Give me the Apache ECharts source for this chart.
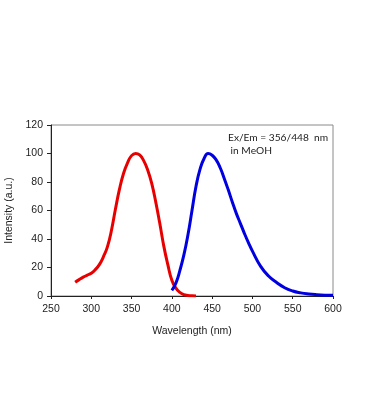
<!DOCTYPE html>
<html><head><meta charset="utf-8">
<script src="https://cdn.jsdelivr.net/npm/echarts@6/dist/echarts.min.js"></script>
<style>html,body{margin:0;padding:0;background:#fff}#c{width:369px;height:418px}</style>
</head><body><div id="c"></div>
<script>
var exWavelengths = [280,285,290,295,300,305,310,315,320,325,330,335,340,345,350,355,360,365,370,375,380,385,390,395,400,405,410,415,420,425,430];
var exIntensity   = [9.6,11.5,13.2,14.6,16,18.5,22,27.5,34.5,46,61,75,86,93.5,98.5,100,99,95,88.5,79,66,51,35,22,11,5.5,2.5,1,0.4,0.1,0];
var emWavelengths = [400,405,410,415,420,425,430,435,440,445,450,455,460,465,470,475,480,485,490,495,500,510,520,530,540,550,560,570,580,590,600];
var emIntensity   = [4,9,18,29,43,60,77,89,96.5,100,98.8,95.5,90,82.5,74.5,66,58,51,44,37.5,31.5,21,14,9.5,5.8,3.5,2.2,1.4,0.9,0.6,0.5];
var xTicks = [250,300,350,400,450,500,550,600];
var yTicks = [0,20,40,60,80,100,120];
var annotation = ["Ex/Em = 356/448  nm", " in MeOH"];

function pairs(xs, ys){ return xs.map(function(x,i){ return [x, ys[i]]; }); }

var chart = echarts.init(document.getElementById('c'), null, {renderer:'canvas'});
var labelFont = {color:'#222', fontFamily:'Liberation Sans, Arial, sans-serif', fontSize:10.5};
chart.setOption({
  animation:false,
  grid:{left:51, top:125, right:36, bottom:122, containLabel:false, outerBoundsMode:'none',
        show:true, borderColor:'#8a8a8a', borderWidth:1, backgroundColor:'transparent'},
  xAxis:{type:'value', min:xTicks[0], max:xTicks[xTicks.length-1], interval:50,
    name:'Wavelength (nm)', nameLocation:'middle', nameGap:30,
    nameTextStyle:{color:'#222', fontFamily:'Liberation Sans, Arial, sans-serif', fontSize:10.5},
    axisLine:{show:true, onZero:false, lineStyle:{color:'#222', width:1}},
    axisTick:{show:true, inside:false, length:3, lineStyle:{color:'#222'}},
    axisLabel:Object.assign({margin:8}, labelFont),
    splitLine:{show:false}},
  yAxis:{type:'value', min:yTicks[0], max:yTicks[yTicks.length-1], interval:20,
    name:'Intensity (a.u.)', nameLocation:'middle', nameGap:35, nameRotate:90,
    nameTextStyle:{color:'#222', fontFamily:'Liberation Sans, Arial, sans-serif', fontSize:10.5},
    axisLine:{show:true, lineStyle:{color:'#222', width:1}},
    axisTick:{show:true, inside:false, length:4, lineStyle:{color:'#222'}},
    axisLabel:Object.assign({margin:8}, labelFont),
    splitLine:{show:false}},
  series:[
    {type:'line', name:'Ex', data:pairs(exWavelengths, exIntensity), smooth:0.5, showSymbol:false,
     lineStyle:{color:'#e80000', width:3}, itemStyle:{color:'#e80000'}},
    {type:'line', name:'Em', data:pairs(emWavelengths, emIntensity), smooth:0.5, showSymbol:false,
     lineStyle:{color:'#0000e0', width:3}, itemStyle:{color:'#0000e0'}}
  ],
  graphic:[
    {type:'text', left:228, top:133, style:{text:annotation[0], fill:'#222', font:'10.2px Lato, "Open Sans", sans-serif'}},
    {type:'text', left:228, top:146, style:{text:annotation[1], fill:'#222', font:'10.2px Lato, "Open Sans", sans-serif'}}
  ]
});
</script></body></html>
